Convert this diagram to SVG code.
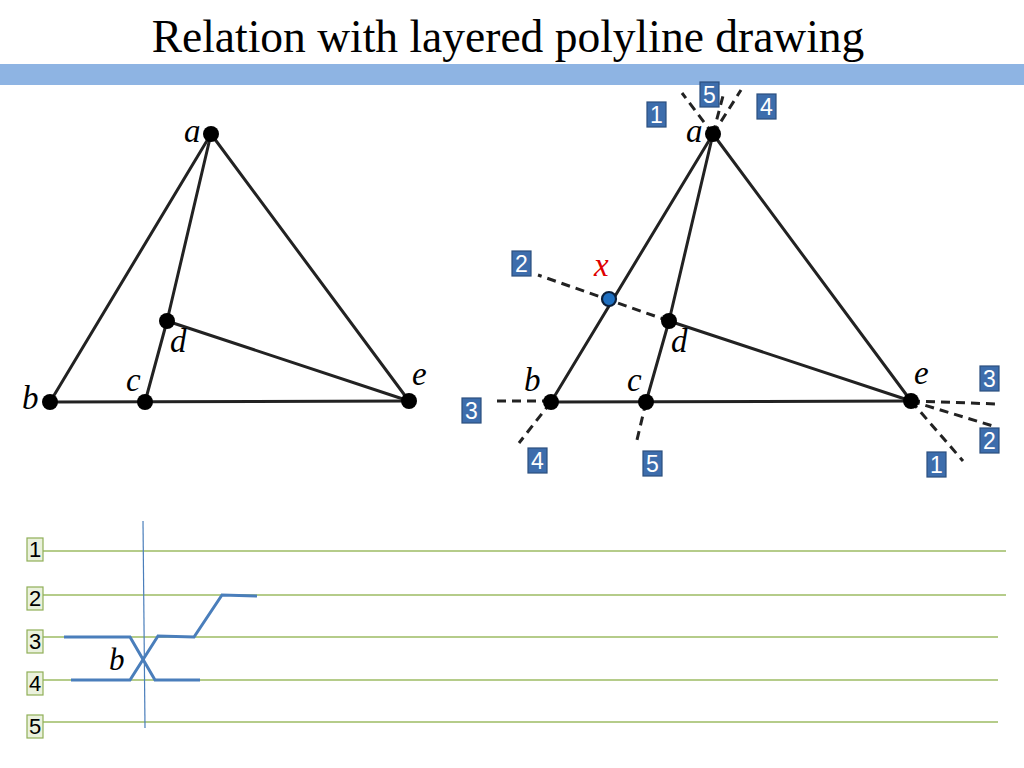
<svg xmlns="http://www.w3.org/2000/svg" width="1024" height="768" viewBox="0 0 1024 768">
<style>
.edge{stroke:#222;stroke-width:3;fill:none;stroke-linecap:round}
.dash{stroke:#222;stroke-width:3;fill:none;stroke-dasharray:9 6}
.node{fill:#000}
.vl{font-family:"Liberation Serif",serif;font-style:italic;font-size:33px;fill:#000}
.bbox{fill:#3D6DAC;stroke:#2B4F7E;stroke-width:1.2}
.bt{font-family:"Liberation Sans",Arial,sans-serif;font-size:23px;fill:#fff;text-anchor:middle}
.gbox{fill:#EAF1DD;stroke:#8FAF57;stroke-width:1.2}
.gt{font-family:"Liberation Sans",Arial,sans-serif;font-size:22px;fill:#000;text-anchor:middle}
.layer{stroke:#9DBB63;stroke-width:1.3}
.poly{stroke:#4A7EBB;stroke-width:3;fill:none;stroke-linejoin:miter}
</style>
<rect width="1024" height="768" fill="#fff"/>
<text x="508" y="52" font-family="'Liberation Serif',serif" font-size="45.5" text-anchor="middle" fill="#000">Relation with layered polyline drawing</text>
<rect x="0" y="64" width="1024" height="21" fill="#8EB4E3"/>

<g id="connectors">
  <line class="edge" x1="211" y1="134" x2="50" y2="402"/>
  <line class="edge" x1="211" y1="134" x2="409" y2="401"/>
  <line class="edge" x1="211" y1="134" x2="167" y2="321"/>
  <line class="edge" x1="167" y1="321" x2="145" y2="402"/>
  <line class="edge" x1="167" y1="321" x2="409" y2="401"/>
  <line class="edge" x1="50" y1="402" x2="409" y2="401"/>
  <line class="edge" x1="713" y1="134" x2="551" y2="402"/>
  <line class="edge" x1="713" y1="134" x2="911" y2="401"/>
  <line class="edge" x1="713" y1="134" x2="669" y2="321"/>
  <line class="edge" x1="669" y1="321" x2="646" y2="402"/>
  <line class="edge" x1="669" y1="321" x2="911" y2="401"/>
  <line class="edge" x1="551" y1="402" x2="911" y2="401"/>
  <line class="dash" x1="713" y1="134" x2="682" y2="93"/>
  <line class="dash" x1="713" y1="134" x2="724" y2="92"/>
  <line class="dash" x1="713" y1="134" x2="741" y2="90"/>
  <line class="dash" x1="669" y1="321" x2="538" y2="275"/>
  <line class="dash" x1="551" y1="401" x2="492" y2="401"/>
  <line class="dash" x1="551" y1="402" x2="519" y2="443"/>
  <line class="dash" x1="646" y1="402" x2="637" y2="440"/>
  <line class="dash" x1="911" y1="401" x2="998" y2="404"/>
  <line class="dash" x1="911" y1="401" x2="993" y2="426"/>
  <line class="dash" x1="911" y1="401" x2="963" y2="461"/>
</g>

<g id="left-a"><circle class="node" cx="211" cy="134" r="8"/><text class="vl" x="184" y="142">a</text></g>
<g id="left-b"><circle class="node" cx="50" cy="402" r="8"/><text class="vl" x="22" y="409">b</text></g>
<g id="left-c"><circle class="node" cx="145" cy="402" r="8"/><text class="vl" x="126" y="391">c</text></g>
<g id="left-d"><circle class="node" cx="167" cy="321" r="8"/><text class="vl" x="170" y="352">d</text></g>
<g id="left-e"><circle class="node" cx="409" cy="401" r="8"/><text class="vl" x="412" y="385">e</text></g>

<g id="right-a"><circle class="node" cx="713" cy="134" r="8"/><text class="vl" x="686" y="142">a</text></g>
<g id="right-b"><circle class="node" cx="551" cy="402" r="8"/><text class="vl" x="524" y="391">b</text></g>
<g id="right-c"><circle class="node" cx="646" cy="402" r="8"/><text class="vl" x="627" y="391">c</text></g>
<g id="right-d"><circle class="node" cx="669" cy="321" r="8"/><text class="vl" x="671" y="352">d</text></g>
<g id="right-e"><circle class="node" cx="911" cy="401" r="8"/><text class="vl" x="914" y="384">e</text></g>
<g id="right-x"><circle cx="609" cy="299" r="7" fill="#1F6FC0" stroke="#0B1F3A" stroke-width="2.2"/><text class="vl" x="594" y="276" style="fill:#E00000">x</text></g>

<g id="blue-labels">
  <g id="lab-a1"><rect class="bbox" x="647" y="102" width="19" height="25"/><text class="bt" x="656.5" y="123">1</text></g>
  <g id="lab-a5"><rect class="bbox" x="700" y="82" width="19" height="25"/><text class="bt" x="709.5" y="103">5</text></g>
  <g id="lab-a4"><rect class="bbox" x="757" y="94" width="19" height="25"/><text class="bt" x="766.5" y="115">4</text></g>
  <g id="lab-x2"><rect class="bbox" x="512" y="251" width="19" height="25"/><text class="bt" x="521.5" y="272">2</text></g>
  <g id="lab-b3"><rect class="bbox" x="462" y="398" width="19" height="25"/><text class="bt" x="471.5" y="419">3</text></g>
  <g id="lab-b4"><rect class="bbox" x="528" y="448" width="19" height="25"/><text class="bt" x="537.5" y="469">4</text></g>
  <g id="lab-c5"><rect class="bbox" x="643" y="451" width="19" height="25"/><text class="bt" x="652.5" y="472">5</text></g>
  <g id="lab-e3"><rect class="bbox" x="980" y="366" width="19" height="25"/><text class="bt" x="989.5" y="387">3</text></g>
  <g id="lab-e2"><rect class="bbox" x="980" y="428" width="19" height="25"/><text class="bt" x="989.5" y="449">2</text></g>
  <g id="lab-e1"><rect class="bbox" x="927" y="452" width="19" height="25"/><text class="bt" x="936.5" y="473">1</text></g>
</g>

<g id="layers">
  <line class="layer" x1="43" y1="551" x2="1006" y2="551"/>
  <line class="layer" x1="43" y1="595" x2="1006" y2="595"/>
  <line class="layer" x1="43" y1="637" x2="998" y2="637"/>
  <line class="layer" x1="43" y1="680" x2="998" y2="680"/>
  <line class="layer" x1="43" y1="722" x2="998" y2="722"/>
  <g id="layer1"><rect class="gbox" x="27" y="538" width="16" height="23"/><text class="gt" x="35" y="557">1</text></g>
  <g id="layer2"><rect class="gbox" x="27" y="587" width="16" height="23"/><text class="gt" x="35" y="606">2</text></g>
  <g id="layer3"><rect class="gbox" x="27" y="630" width="16" height="23"/><text class="gt" x="35" y="649">3</text></g>
  <g id="layer4"><rect class="gbox" x="27" y="672" width="16" height="23"/><text class="gt" x="35" y="691">4</text></g>
  <g id="layer5"><rect class="gbox" x="27" y="715" width="16" height="23"/><text class="gt" x="35" y="734">5</text></g>
</g>

<g id="polylines">
  <line x1="143" y1="521" x2="145" y2="728" stroke="#4A7EBB" stroke-width="1.2"/>
  <polyline class="poly" points="64,637 130,637 155,680 200,680"/>
  <polyline class="poly" points="71,680 130,680 158,636 194,637 222,595 257,596"/>
  <text class="vl" x="109" y="670" style="font-size:31px">b</text>
</g>
</svg>
